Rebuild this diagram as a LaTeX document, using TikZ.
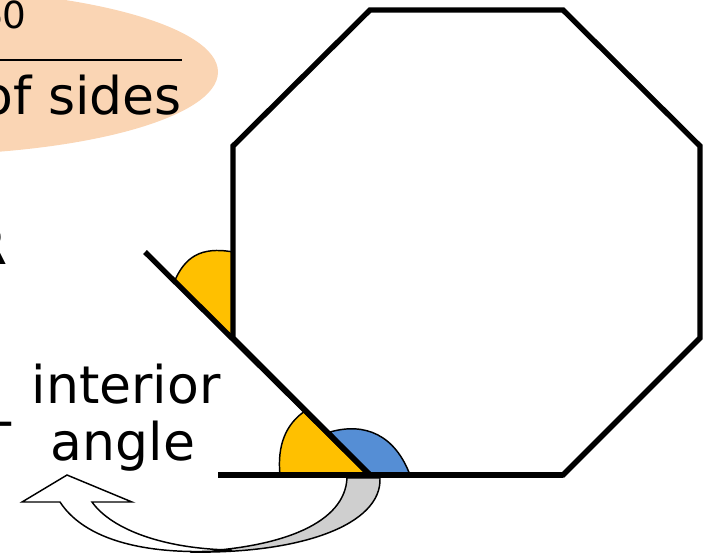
\documentclass[tikz,border=0pt]{standalone}
\usepackage{fontspec}
\setmainfont{DejaVu Sans}
\definecolor{peach}{HTML}{FAD5B4}
\definecolor{angyellow}{HTML}{FFC000}
\definecolor{angblue}{HTML}{558ED5}
\definecolor{bandgrey}{HTML}{CFCFCF}
\begin{document}
\begin{tikzpicture}[x=0.75pt,y=-0.75pt,
  bigtext/.style={inner sep=0pt,font=\fontsize{39}{47}\selectfont},
  thickline/.style={line width=4pt,line join=miter},
  anglefill/.style={draw=black,line width=1.1pt},
  arrowpart/.style={draw=black,line width=1.1pt,line join=miter}]
\useasboundingbox (0,0) rectangle (711,554);
% peach ellipse (cut by the frame)
\fill[peach] (-86,72) ellipse [x radius=304, y radius=83];
\draw[line width=1.5pt] (0,60) -- (182,60);
\node[inner sep=0pt,anchor=base east,font=\fontsize{28}{34}\selectfont] (num) at (27,28) {360};
\node[bigtext,anchor=base east] (sides) at (182,114) {of sides};
% left fragments
\node[bigtext,anchor=east] (frag1) at (8,246) {R};
\node[bigtext,anchor=east] (frag2) at (15,430) {-};
% texts
\node[bigtext,anchor=base] (interior) at (126,403) {interior};
\node[bigtext,anchor=base] (angle) at (123,460) {angle};
% octagon vertices
\coordinate (o1) at (370,10);
\coordinate (o2) at (563,10);
\coordinate (o3) at (700,146);
\coordinate (o4) at (700,338);
\coordinate (o5) at (563,475);
\coordinate (o6) at (370,475);
\coordinate (o7) at (233,338);
\coordinate (o8) at (233,146);
\coordinate (diagEnd) at (145,252);
\coordinate (baseEnd) at (218,475);
% curved arrow: grey back band
\draw[arrowpart,fill=bandgrey] (347,478) .. controls (345,522) and (285,548) .. (190,552)
  .. controls (300,554) and (382,525) .. (380,478) -- cycle;
% white front band with head
\draw[arrowpart,fill=white] (60,502) .. controls (88,545) and (160,556) .. (232,550)
  .. controls (165,549) and (112,530) .. (92,502) -- (132,502) -- (67,475) -- (22,502) -- cycle;
% angle fills
\draw[anglefill,fill=angyellow] (o7) -- (175,280) .. controls (185,258) and (200,246) .. (233,252) -- cycle;
\draw[anglefill,fill=angyellow] (o6) -- (305,411) .. controls (286,424) and (277,445) .. (280,475) -- cycle;
\draw[anglefill,fill=angblue] (o6) -- (330,432) .. controls (365,422) and (395,435) .. (410,475) -- cycle;
% octagon and extensions
\draw[thickline,fill=none] (o1) -- (o2) -- (o3) -- (o4) -- (o5) -- (o6) -- (o7) -- (o8) -- cycle;
\draw[thickline] (diagEnd) -- (o6);
\draw[thickline] (baseEnd) -- (o5);
\end{tikzpicture}
\end{document}
